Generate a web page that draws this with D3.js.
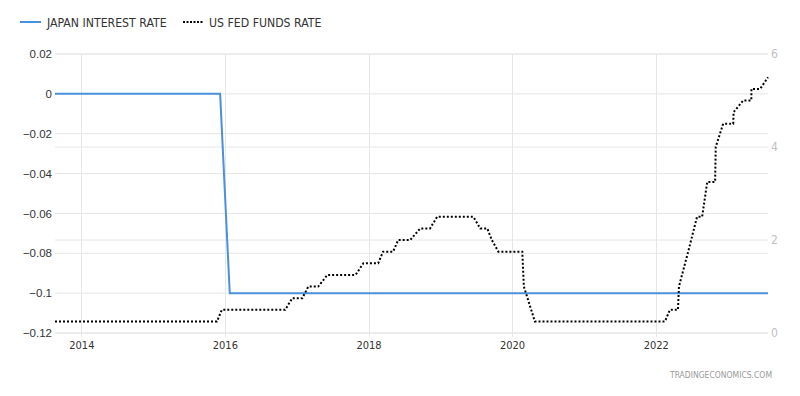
<!DOCTYPE html>
<html>
<head>
<meta charset="utf-8">
<script src="https://cdn.jsdelivr.net/npm/d3@7"></script>
<style>
  body { margin: 0; background: #fff; }
  svg { display: block; }
</style>
</head>
<body>
<div id="chart"></div>
<script>
// Japan interest rate (left axis)
var japanDates = ["2013-08-20", "2015-12-08", "2016-01-26", "2023-07-26"];
var japanValues = [0, 0, -0.1, -0.1];

// US fed funds rate (right axis), corners of the step line
var fedDates = [
  "2013-08-20", "2015-11-22", "2015-12-17", "2016-11-03", "2016-12-09",
  "2017-01-29", "2017-03-01", "2017-04-20", "2017-06-06", "2017-10-27",
  "2017-12-06", "2018-02-19", "2018-03-16", "2018-05-06", "2018-06-01",
  "2018-08-01", "2018-09-21", "2018-11-10", "2018-12-16", "2019-06-18",
  "2019-07-23", "2019-08-28", "2019-09-20", "2019-10-23", "2020-02-22",
  "2020-03-01", "2020-04-26", "2022-02-17", "2022-03-14", "2022-04-24",
  "2022-04-29", "2022-06-15", "2022-07-30", "2022-08-25", "2022-09-20",
  "2022-10-30", "2022-11-02", "2022-12-10", "2023-01-30", "2023-02-01",
  "2023-03-22", "2023-05-02", "2023-05-03", "2023-06-16", "2023-07-26"
];
var fedValues = [
  0.25, 0.25, 0.5, 0.5, 0.75,
  0.75, 1.0, 1.0, 1.25, 1.25,
  1.5, 1.5, 1.75, 1.75, 2.0,
  2.0, 2.25, 2.25, 2.5, 2.5,
  2.25, 2.25, 2.0, 1.75, 1.75,
  1.0, 0.25, 0.25, 0.5, 0.5,
  1.0, 1.75, 2.5, 2.5, 3.25,
  3.25, 4.0, 4.5, 4.5, 4.75,
  5.0, 5.0, 5.25, 5.25, 5.5
];

var leftTicks = [0.02, 0, -0.02, -0.04, -0.06, -0.08, -0.1, -0.12];
var rightTicks = [0, 2, 4, 6];
var yearTicks = [2014, 2016, 2018, 2020, 2022];

var parseDate = d3.timeParse("%Y-%m-%d");
var japan = japanDates.map(function(d, i) { return { date: parseDate(d), value: japanValues[i] }; });
var fed = fedDates.map(function(d, i) { return { date: parseDate(d), value: fedValues[i] }; });

var width = 800, height = 396;
var margin = { top: 54, right: 32, bottom: 63, left: 55 };
var narrow = "'Liberation Sans Narrow', 'DejaVu Sans Condensed', 'Roboto', sans-serif";
var regular = "'Liberation Sans', Arial, sans-serif";

var svg = d3.select("#chart")
  .append("svg")
  .attr("width", width)
  .attr("height", height);

var xScale = d3.scaleTime()
  .domain(d3.extent(fed, function(d) { return d.date; }))
  .range([margin.left, width - margin.right]);

var yLeft = d3.scaleLinear()
  .domain([-0.12, 0.02])
  .range([height - margin.bottom, margin.top]);

var yRight = d3.scaleLinear()
  .domain([0, 6])
  .range([height - margin.bottom, margin.top]);

var gridColor = "#e6e6e6";

// horizontal grid from left axis
svg.append("g")
  .selectAll("line")
  .data(leftTicks)
  .enter()
  .append("line")
  .attr("x1", margin.left)
  .attr("x2", width - margin.right)
  .attr("y1", function(d) { return yLeft(d); })
  .attr("y2", function(d) { return yLeft(d); })
  .attr("stroke", gridColor)
  .attr("stroke-width", 1);

// horizontal grid from right axis
svg.append("g")
  .selectAll("line")
  .data(rightTicks)
  .enter()
  .append("line")
  .attr("x1", margin.left)
  .attr("x2", width - margin.right)
  .attr("y1", function(d) { return yRight(d); })
  .attr("y2", function(d) { return yRight(d); })
  .attr("stroke", gridColor)
  .attr("stroke-width", 1);

// vertical grid at year ticks
var yearDates = yearTicks.map(function(y) { return new Date(y, 0, 1); });
svg.append("g")
  .selectAll("line")
  .data(yearDates)
  .enter()
  .append("line")
  .attr("x1", function(d) { return Math.round(xScale(d)) + 0.5; })
  .attr("x2", function(d) { return Math.round(xScale(d)) + 0.5; })
  .attr("y1", margin.top)
  .attr("y2", height - margin.bottom + 4)
  .attr("stroke", gridColor)
  .attr("stroke-width", 1);

// left axis labels
var leftAxis = d3.axisLeft(yLeft)
  .tickValues(leftTicks)
  .tickSize(0)
  .tickPadding(3)
  .tickFormat(function(d) { return d3.format("")(+d.toFixed(2)); });
var gl = svg.append("g")
  .attr("transform", "translate(" + margin.left + ",0)")
  .call(leftAxis);
gl.select(".domain").remove();
gl.selectAll("text")
  .attr("font-family", regular)
  .attr("font-size", "11.5px")
  .attr("fill", "#333");

// right axis labels
var rightAxis = d3.axisRight(yRight)
  .tickValues(rightTicks)
  .tickSize(0)
  .tickPadding(3)
  .tickFormat(d3.format("d"));
var gr = svg.append("g")
  .attr("transform", "translate(" + (width - margin.right) + ",0)")
  .call(rightAxis);
gr.select(".domain").remove();
gr.selectAll("text")
  .attr("font-family", narrow)
  .attr("font-size", "12px")
  .attr("fill", "#c0c0c0");

// bottom axis labels
var xAxis = d3.axisBottom(xScale)
  .tickValues(yearDates)
  .tickSize(0)
  .tickPadding(8)
  .tickFormat(d3.timeFormat("%Y"));
var gx = svg.append("g")
  .attr("transform", "translate(0," + (height - margin.bottom) + ")")
  .call(xAxis);
gx.select(".domain").remove();
gx.selectAll("text")
  .attr("font-family", narrow)
  .attr("font-size", "11px")
  .attr("fill", "#333");

// Japan line
var japanLine = d3.line()
  .x(function(d) { return xScale(d.date); })
  .y(function(d) { return yLeft(d.value); });

svg.append("path")
  .datum(japan)
  .attr("d", japanLine)
  .attr("fill", "none")
  .attr("stroke", "#4a90dc")
  .attr("stroke-width", 2);

// US fed line (dotted)
var fedLine = d3.line()
  .x(function(d) { return xScale(d.date); })
  .y(function(d) { return yRight(d.value); });

svg.append("path")
  .datum(fed)
  .attr("d", fedLine)
  .attr("fill", "none")
  .attr("stroke", "#000")
  .attr("stroke-width", 2)
  .attr("stroke-dasharray", "2,2");

// legend
var legend = svg.append("g");
legend.append("line")
  .attr("x1", 20).attr("x2", 41).attr("y1", 22).attr("y2", 22)
  .attr("stroke", "#4a90dc").attr("stroke-width", 2);
legend.append("text")
  .attr("x", 47).attr("y", 26.5)
  .text("JAPAN INTEREST RATE")
  .attr("font-family", narrow).attr("font-size", "12.2px").attr("fill", "#333");
legend.append("line")
  .attr("x1", 183).attr("x2", 203).attr("y1", 22).attr("y2", 22)
  .attr("stroke", "#000").attr("stroke-width", 2).attr("stroke-dasharray", "2,1.5");
legend.append("text")
  .attr("x", 209).attr("y", 26.5)
  .text("US FED FUNDS RATE")
  .attr("font-family", narrow).attr("font-size", "12.2px").attr("fill", "#333");

// watermark
svg.append("text")
  .attr("x", 772).attr("y", 378)
  .attr("text-anchor", "end")
  .text("TRADINGECONOMICS.COM")
  .attr("font-family", narrow).attr("font-size", "8.5px").attr("fill", "#999");
</script>
</body>
</html>
